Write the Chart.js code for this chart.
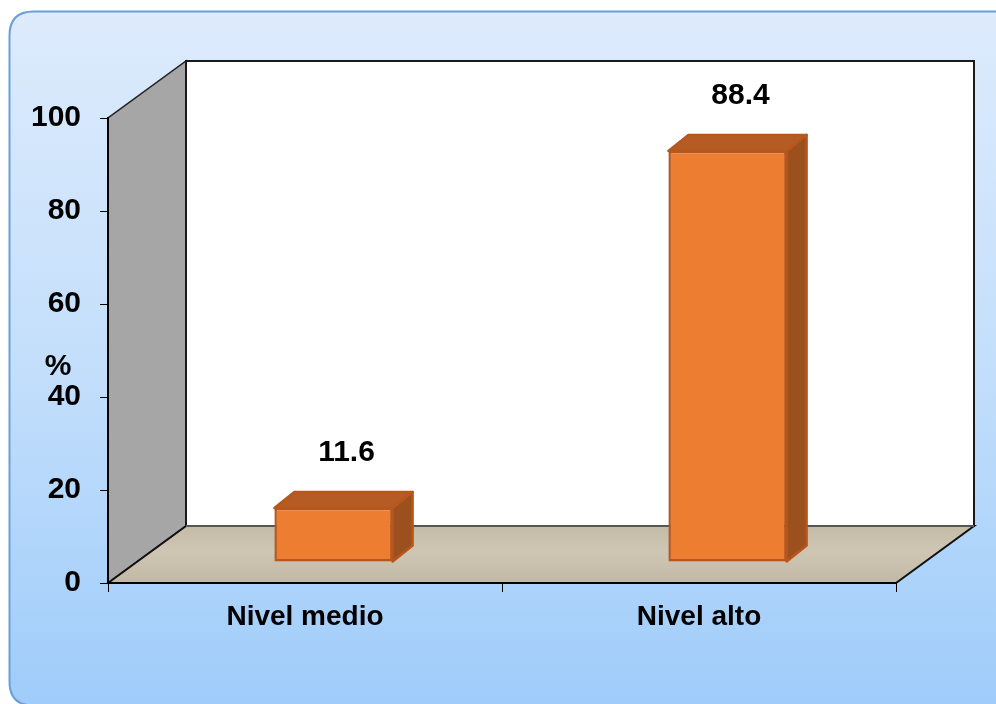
<!DOCTYPE html>
<html>
<head>
<meta charset="utf-8">
<title>Nivel</title>
<script src="https://cdn.jsdelivr.net/npm/chart.js@4/dist/chart.umd.min.js"></script>
<style>
  html, body { margin: 0; padding: 0; background: #ffffff; }
  #wrap { width: 996px; height: 704px; }
</style>
</head>
<body>
<div id="wrap"><canvas id="chart" width="996" height="704"></canvas></div>
<script>
// Data
const categories = ['Nivel medio', 'Nivel alto'];
const percentages = [11.6, 88.4];
const yTickValues = [0, 20, 40, 60, 80, 100];
const axisTitle = '%';

// 3D look: wall depth, bar placement inside the floor, bar thickness
const WALL = { dx: 78, dy: 57 };
const PLACE = { dx: 28.5, dy: 21 };
const BAR = { dx: 20, dy: 16 };

const FONT = 'Liberation Sans, Arial, Helvetica, sans-serif';

function roundRect(ctx, x, y, w, h, r) {
  ctx.beginPath();
  ctx.moveTo(x + r, y);
  ctx.lineTo(x + w - r, y);
  ctx.quadraticCurveTo(x + w, y, x + w, y + r);
  ctx.lineTo(x + w, y + h - r);
  ctx.quadraticCurveTo(x + w, y + h, x + w - r, y + h);
  ctx.lineTo(x + r, y + h);
  ctx.quadraticCurveTo(x, y + h, x, y + h - r);
  ctx.lineTo(x, y + r);
  ctx.quadraticCurveTo(x, y, x + r, y);
  ctx.closePath();
}

function poly(ctx, pts) {
  ctx.beginPath();
  ctx.moveTo(pts[0][0], pts[0][1]);
  for (let i = 1; i < pts.length; i++) ctx.lineTo(pts[i][0], pts[i][1]);
  ctx.closePath();
}

const box3d = {
  id: 'box3d',
  beforeDraw(chart) {
    const ctx = chart.ctx;
    const y = chart.scales.y;
    const a = chart.chartArea;
    const yTop = y.getPixelForValue(100);
    const yBot = y.getPixelForValue(0);

    ctx.save();
    // panel
    const g = ctx.createLinearGradient(0, 11, 0, 704);
    g.addColorStop(0, '#DDEBFC');
    g.addColorStop(0.5, '#C4DFFB');
    g.addColorStop(1, '#9FCCFA');
    roundRect(ctx, 9.5, 11.5, 1010, 694, 24);
    ctx.fillStyle = g;
    ctx.fill();
    ctx.lineWidth = 2;
    ctx.strokeStyle = '#6A9FD8';
    ctx.stroke();

    // back wall
    ctx.fillStyle = '#ffffff';
    ctx.fillRect(a.left + WALL.dx, yTop - WALL.dy, a.right - a.left, yBot - yTop);

    // left wall
    poly(ctx, [[a.left, yBot], [a.left, yTop], [a.left + WALL.dx, yTop - WALL.dy], [a.left + WALL.dx, yBot - WALL.dy]]);
    ctx.fillStyle = '#A6A6A6';
    ctx.fill();
    ctx.lineWidth = 1.5;
    ctx.strokeStyle = '#222';
    ctx.stroke();

    // floor
    poly(ctx, [[a.left, yBot], [a.right, yBot], [a.right + WALL.dx, yBot - WALL.dy], [a.left + WALL.dx, yBot - WALL.dy]]);
    const fg = ctx.createLinearGradient(0, yBot - WALL.dy, 0, yBot);
    fg.addColorStop(0, '#C5BCA7');
    fg.addColorStop(0.45, '#CEC6B3');
    fg.addColorStop(1, '#C2B9A5');
    ctx.fillStyle = fg;
    ctx.fill();
    ctx.lineWidth = 2;
    ctx.strokeStyle = '#111';
    ctx.stroke();

    // back wall outline
    ctx.beginPath();
    ctx.moveTo(a.left + WALL.dx, yBot - WALL.dy);
    ctx.lineTo(a.left + WALL.dx, yTop - WALL.dy);
    ctx.lineTo(a.right + WALL.dx, yTop - WALL.dy);
    ctx.lineTo(a.right + WALL.dx, yBot - WALL.dy);
    ctx.lineWidth = 2;
    ctx.strokeStyle = '#1a1a1a';
    ctx.stroke();
    ctx.beginPath();
    ctx.moveTo(a.left + WALL.dx, yBot - WALL.dy);
    ctx.lineTo(a.right + WALL.dx, yBot - WALL.dy);
    ctx.strokeStyle = '#555';
    ctx.stroke();

    // axis title
    ctx.fillStyle = '#000';
    ctx.font = 'bold 30px ' + FONT;
    ctx.textAlign = 'center';
    ctx.textBaseline = 'middle';
    ctx.fillText(axisTitle, 58, 367);
    ctx.restore();
  },
  beforeDatasetsDraw(chart) {
    const ctx = chart.ctx;
    ctx.save();
    ctx.translate(PLACE.dx, -PLACE.dy);
    const meta = chart.getDatasetMeta(0);
    meta.data.forEach((bar) => {
      const p = bar.getProps(['x', 'y', 'base', 'width'], true);
      const l = p.x - p.width / 2, r = p.x + p.width / 2;
      ctx.lineWidth = 2.5;
      ctx.strokeStyle = '#B8561C';
      ctx.lineJoin = 'round';
      // top face
      poly(ctx, [[l, p.y], [l + BAR.dx, p.y - BAR.dy], [r + BAR.dx, p.y - BAR.dy], [r, p.y]]);
      ctx.fillStyle = '#B45C23';
      ctx.fill();
      ctx.stroke();
      // side face
      poly(ctx, [[r, p.y], [r + BAR.dx, p.y - BAR.dy], [r + BAR.dx, p.base - BAR.dy], [r, p.base]]);
      ctx.fillStyle = '#9B501E';
      ctx.fill();
      ctx.stroke();
    });
  },
  afterDatasetsDraw(chart) {
    const ctx = chart.ctx;
    ctx.restore();
    const meta = chart.getDatasetMeta(0);
    ctx.save();
    ctx.fillStyle = '#000';
    ctx.font = 'bold 30px ' + FONT;
    ctx.textAlign = 'center';
    ctx.textBaseline = 'middle';
    meta.data.forEach((bar, i) => {
      const p = bar.getProps(['x', 'y'], true);
      ctx.fillText(String(percentages[i]), p.x + PLACE.dx + 13, p.y - PLACE.dy - 55);
    });
    ctx.restore();
  }
};

new Chart(document.getElementById('chart'), {
  type: 'bar',
  data: {
    labels: categories,
    datasets: [{
      data: percentages,
      backgroundColor: '#ED7D31',
      borderColor: '#B8561C',
      borderWidth: 2.5,
      borderSkipped: false,
      barPercentage: 0.3,
      categoryPercentage: 1,
      clip: false
    }]
  },
  options: {
    responsive: false,
    animation: false,
    layout: { padding: { left: 0, top: 118, right: 100, bottom: 0 } },
    plugins: { legend: { display: false }, tooltip: { enabled: false } },
    scales: {
      x: {
        afterFit(s) { s.height = 121; },
        grid: { drawOnChartArea: false, drawTicks: true, tickLength: 9, color: '#000', offset: true },
        border: { display: true, color: '#000', width: 2 },
        ticks: { color: '#000', padding: 8, font: { family: FONT, size: 28, weight: 'bold' }, maxRotation: 0 }
      },
      y: {
        min: 0,
        max: 100,
        afterFit(s) { s.width = 108; },
        afterBuildTicks(s) { s.ticks = yTickValues.map(v => ({ value: v })); },
        grid: { drawOnChartArea: false, drawTicks: true, tickLength: 8, color: '#000' },
        border: { display: true, color: '#000', width: 2 },
        ticks: { color: '#000', padding: 19, font: { family: FONT, size: 30, weight: 'bold' } }
      }
    }
  },
  plugins: [box3d]
});
</script>
</body>
</html>
